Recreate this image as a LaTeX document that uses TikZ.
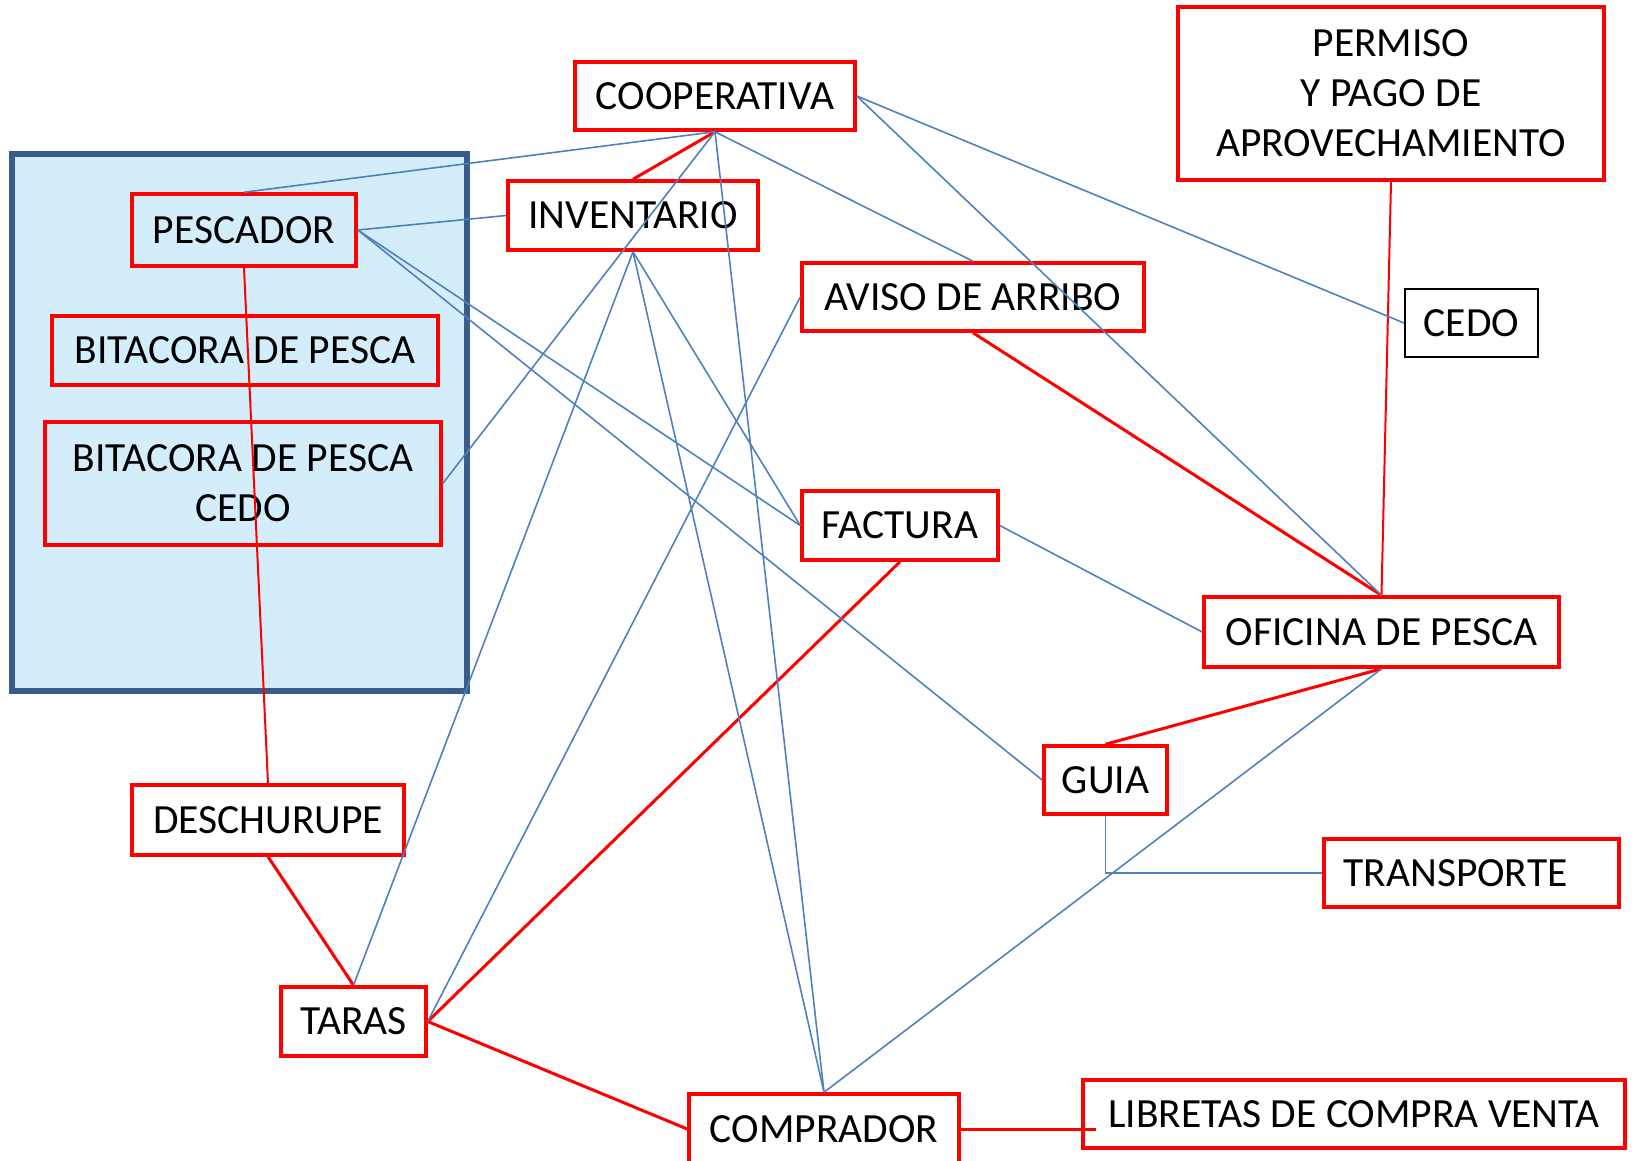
\documentclass[tikz,border=0pt]{standalone}
\usepackage{fontspec}
\setmainfont{Carlito}
\definecolor{rojo}{RGB}{255,0,0}
\definecolor{azul}{RGB}{79,129,189}
\definecolor{celeste}{RGB}{211,238,250}
\definecolor{marino}{RGB}{56,93,138}

\begin{document}
\begin{tikzpicture}[x=1pt, y=-1pt,
	caja/.style={draw=rojo, line width=3.5pt, inner sep=0pt, minimum height=69pt, align=center, font=\fontsize{41.5}{50}\selectfont},
	cajanegra/.style={caja, draw=black, line width=2pt},
	grupo/.style={draw=marino, fill=celeste, line width=5.5pt, inner sep=0pt},
	enlacerojo/.style={rojo, line width=3pt},
	enlacefino/.style={rojo, line width=2pt},
	enlaceazul/.style={azul, line width=1.6pt}]
	\useasboundingbox (0,0) rectangle (1642,1160);
	\node[grupo, minimum width=455pt, minimum height=537pt] (grupo) at (239.5,422.5) {};
	\node[caja, minimum width=280pt, minimum height=68pt] (coop) at (715,96) {COOPERATIVA};
	\node[caja, minimum width=426pt, minimum height=173pt] (permiso) at (1391,93.5) {PERMISO\\Y PAGO DE\\APROVECHAMIENTO};
	\node[caja, minimum width=250pt] (inventario) at (633,215.5) {INVENTARIO};
	\node[caja, minimum width=224pt, minimum height=72pt] (pescador) at (244,230) {PESCADOR};
	\node[caja, minimum width=386pt] (bitacora) at (245,350.5) {BITACORA DE PESCA};
	\node[caja, minimum width=396pt, minimum height=123pt] (bitcedo) at (243,483.5) {BITACORA DE PESCA\\CEDO};
	\node[caja, minimum width=342pt, minimum height=68pt] (aviso) at (973,297) {AVISO DE ARRIBO};
	\node[cajanegra, minimum width=133pt, minimum height=68pt] (cedo) at (1471.5,323) {CEDO};
	\node[caja, minimum width=196pt] (factura) at (900,525.5) {FACTURA};
	\node[caja, minimum width=355pt, minimum height=70pt] (oficina) at (1381.5,632) {OFICINA DE PESCA};
	\node[caja, minimum width=123pt, minimum height=68pt] (guia) at (1105.5,780) {GUIA};
	\node[caja, minimum width=295pt, minimum height=68pt] (transporte) at (1471.5,873) {TRANSPORTE\hspace*{32pt}};
	\node[caja, minimum width=542pt, minimum height=68pt] (libretas) at (1354,1114) {LIBRETAS DE COMPRA VENTA};
	\node[caja, minimum width=270pt, minimum height=70pt] (comprador) at (824,1129) {COMPRADOR};
	\node[caja, minimum width=272pt, minimum height=70pt] (deschurupe) at (268,820) {DESCHURUPE};
	\node[caja, minimum width=145pt] (taras) at (353.5,1021.5) {TARAS};

	\draw[enlacerojo] (coop.south) -- (inventario.north);
	\draw[enlacerojo] (deschurupe.south) -- (taras.north);
	\draw[enlacerojo] (taras.east) -- (factura.south);
	\draw[enlacerojo] (taras.east) -- (comprador.west);
	\draw[enlacerojo] (aviso.south) -- (oficina.north);
	\draw[enlacerojo] (oficina.south) -- (guia.north);
	\draw[enlacerojo] (comprador.east) -- ([xshift=15pt]comprador.east -| libretas.west);
	\draw[enlacefino] (pescador.south) -- (deschurupe.north);
	\draw[enlacefino] (permiso.south) -- (oficina.north);

	\draw[enlaceazul] (coop.south) -- (pescador.north);
	\draw[enlaceazul] (coop.south) -- (bitcedo.east);
	\draw[enlaceazul] (coop.south) -- (aviso.north);
	\draw[enlaceazul] (coop.south) -- (comprador.north);
	\draw[enlaceazul] (coop.east) -- (cedo.west);
	\draw[enlaceazul] (coop.east) -- (oficina.north);
	\draw[enlaceazul] (pescador.east) -- (inventario.west);
	\draw[enlaceazul] (pescador.east) -- (factura.west);
	\draw[enlaceazul] (pescador.east) -- (guia.west);
	\draw[enlaceazul] (inventario.south) -- (taras.north);
	\draw[enlaceazul] (inventario.south) -- (factura.west);
	\draw[enlaceazul] (inventario.south) -- (comprador.north);
	\draw[enlaceazul] (aviso.west) -- (taras.east);
	\draw[enlaceazul] (factura.east) -- (oficina.west);
	\draw[enlaceazul] (comprador.north) -- (oficina.south);
	\draw[enlaceazul] (guia.south) |- (transporte.west);
\end{tikzpicture}
\end{document}
